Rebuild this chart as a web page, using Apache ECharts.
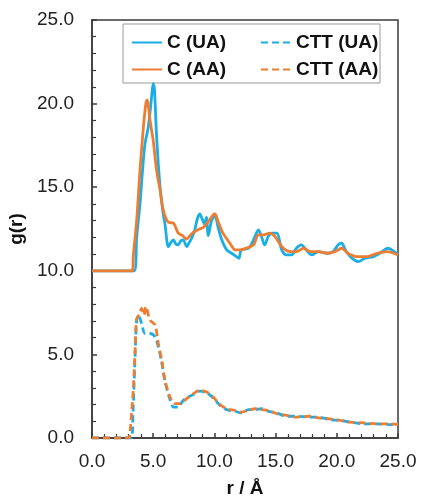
<!DOCTYPE html>
<html>
<head>
<meta charset="utf-8">
<script src="https://cdn.jsdelivr.net/npm/echarts@6/dist/echarts.min.js"></script>
<style>
  html, body { margin: 0; padding: 0; background: #fff; }
  #chart { width: 421px; height: 498px; }
</style>
</head>
<body>
<div id="chart"></div>
<script>
// g(r) curves as [r, g] pairs
var cUA = [[0, 10], [3.45, 10], [3.65, 12.0], [3.92, 14.0], [4.15, 16.2], [4.33, 17.6], [4.6, 18.6], [4.87, 20.4],
    [5.0, 21.2], [5.1, 20.9], [5.28, 18.0], [5.56, 15.0], [5.8, 13.5], [5.96, 12.8], [6.24, 11.45], [6.45, 11.7],
    [6.65, 11.85], [6.85, 11.6], [7.05, 11.55], [7.25, 11.8], [7.46, 11.85], [7.73, 11.45], [7.95, 11.7],
    [8.14, 11.95], [8.4, 12.45], [8.6, 13.1], [8.8, 13.4], [9.0, 13.1], [9.2, 12.8], [9.35, 13.2], [9.5, 12.1],
    [9.77, 13.0], [10.05, 13.3], [10.3, 12.6], [10.6, 11.85], [11.0, 11.25], [11.4, 11.05], [11.8, 10.85],
    [12.0, 10.75], [12.2, 11.25], [12.8, 11.35], [13.2, 11.85], [13.6, 12.45], [13.85, 12.05], [14.1, 11.55],
    [14.4, 12.05], [14.7, 12.25], [15.1, 12.25], [15.5, 11.25], [15.9, 10.95], [16.3, 10.95], [16.7, 11.35],
    [17.1, 11.55], [17.5, 11.25], [17.95, 10.95], [18.5, 11.15], [19.2, 11.05], [19.7, 11.15], [20.1, 11.55],
    [20.4, 11.65], [20.7, 11.25], [21.1, 10.85], [21.75, 10.55], [22.3, 10.75], [23.0, 10.85], [23.5, 11.05],
    [24.2, 11.35], [24.5, 11.25], [25, 11.0]];

var cAA = [[0, 10], [3.3, 10], [3.37, 10.85], [3.65, 13.0], [3.92, 16.0], [4.2, 18.6], [4.4, 20.0], [4.5, 20.2],
    [4.74, 19.0], [4.87, 18.4], [5.0, 17.8], [5.28, 16.0], [5.56, 14.85], [5.83, 13.6], [6.24, 12.9],
    [6.65, 12.85], [7.05, 12.25], [7.4, 12.1], [7.73, 11.9], [8.0, 12.1], [8.28, 12.3], [8.8, 12.5],
    [9.1, 12.6], [9.37, 12.8], [9.9, 13.35], [10.05, 13.4], [10.3, 12.95], [10.7, 12.25], [11.27, 11.65],
    [11.7, 11.25], [12.1, 11.25], [12.6, 11.35], [13.2, 11.55], [13.6, 12.15], [14.0, 12.15], [14.5, 12.25],
    [14.95, 12.05], [15.4, 11.55], [15.8, 11.25], [16.2, 11.15], [16.7, 11.15], [17.3, 11.35], [17.8, 11.15],
    [18.5, 11.15], [19.2, 11.05], [19.85, 11.15], [20.4, 11.35], [20.9, 11.05], [21.6, 10.85], [22.45, 10.85],
    [23.3, 11.05], [24.1, 11.15], [25, 10.95]];

var cttUA = [[0, 0], [3.2, 0], [3.35, 1.5], [3.5, 4.5], [3.65, 7.05], [3.8, 7.35], [4.05, 6.85], [4.33, 6.25],
    [4.74, 6.25], [5.15, 6.05], [5.42, 5.45], [5.7, 4.5], [5.96, 3.4], [6.37, 2.3], [6.65, 1.85], [7.05, 1.85],
    [7.4, 2.2], [7.73, 2.4], [8.28, 2.6], [8.8, 2.8], [9.37, 2.7], [9.9, 2.4], [10.46, 1.95], [11.0, 1.7],
    [11.7, 1.6], [12.2, 1.5], [12.8, 1.7], [13.3, 1.7], [13.85, 1.75], [14.4, 1.6], [15.1, 1.5], [15.9, 1.3],
    [16.7, 1.3], [17.8, 1.25], [18.5, 1.25], [19.4, 1.1], [20.3, 1.05], [21.1, 0.95], [22.2, 0.85],
    [23.3, 0.85], [24.3, 0.8], [25, 0.85]];

var cttAA = [[0, 0], [3.0, 0], [3.1, 0.3], [3.37, 2.9], [3.5, 4.9], [3.65, 7.1], [3.92, 7.45], [4.05, 7.75],
    [4.25, 7.35], [4.4, 7.85], [4.74, 7.05], [5.15, 6.75], [5.42, 5.65], [5.7, 4.65], [5.96, 3.45],
    [6.37, 2.45], [6.78, 2.05], [7.2, 2.05], [7.73, 2.35], [8.28, 2.65], [8.8, 2.85], [9.37, 2.75],
    [9.9, 2.45], [10.46, 2.0], [11.0, 1.75], [11.7, 1.65], [12.2, 1.55], [12.8, 1.65], [13.3, 1.75],
    [13.85, 1.7], [14.4, 1.65], [15.1, 1.45], [15.9, 1.35], [16.7, 1.25], [17.8, 1.3], [18.5, 1.2],
    [19.4, 1.15], [20.3, 1.05], [21.1, 0.95], [22.2, 0.9], [23.3, 0.85], [24.3, 0.85], [25, 0.8]];

var seriesNames = ['C (UA)', 'C (AA)', 'CTT (UA)', 'CTT (AA)'];
var blue = '#1aade6';
var orange = '#ed7d31';
var axisColor = '#3a3a3a';
var font = 'Arial, "Liberation Sans", sans-serif';

var chart = echarts.init(document.getElementById('chart'));

function axisCfg(name, isY) {
    return {
        type: 'value',
        min: 0,
        max: 25,
        interval: 5,
        name: name,
        nameLocation: 'middle',
        nameGap: isY ? 57 : 41,
        nameTextStyle: { fontFamily: font, fontSize: 19, fontWeight: 'bold', color: '#111' },
        axisLine: { show: true, lineStyle: { color: axisColor, width: 1.5 } },
        axisTick: { show: true, inside: true, length: 5, lineStyle: { color: axisColor, width: 1.5 } },
        minorTick: { show: true, splitNumber: 5, length: 4, lineStyle: { color: axisColor, width: 1.2 } },
        splitLine: { show: false },
        axisLabel: {
            fontFamily: font, fontSize: 19, color: '#222',
            margin: isY ? 18 : 14,
            formatter: function (v) { return v.toFixed(1); }
        }
    };
}

function line(name, data, color, dashed) {
    return {
        name: name,
        type: 'line',
        data: data,
        showSymbol: false,
        symbol: 'none',
        smooth: 0.3,
        lineStyle: { color: color, width: 2.8, type: dashed ? [7, 4] : 'solid' },
        itemStyle: { color: color }
    };
}

var legendText = { fontFamily: font, fontSize: 19, fontWeight: 'bold', color: '#111' };

function legendCol(left, names) {
    return {
        orient: 'vertical',
        left: left, top: 28,
        itemWidth: 30, itemHeight: 14, itemGap: 8,
        itemStyle: { opacity: 0 },
        textStyle: legendText,
        data: names
    };
}

var option = {
    animation: false,
    backgroundColor: '#fff',
    grid: {
        left: 92, right: 23, top: 20, bottom: 60,
        outerBoundsMode: 'none',
        show: true, borderColor: axisColor, borderWidth: 1.5
    },
    graphic: [{
        type: 'rect',
        z: 3,
        shape: { x: 123, y: 24, width: 257, height: 59 },
        style: { fill: '#fff', stroke: '#9a9a9a', lineWidth: 1 }
    }],
    legend: [
        legendCol(126, [seriesNames[0], seriesNames[1]]),
        legendCol(255, [seriesNames[2], seriesNames[3]])
    ],
    xAxis: axisCfg('r / Å', false),
    yAxis: axisCfg('g(r)', true),
    series: [
        line(seriesNames[0], cUA, blue, false),
        line(seriesNames[1], cAA, orange, false),
        line(seriesNames[2], cttUA, blue, true),
        line(seriesNames[3], cttAA, orange, true)
    ]
};

chart.setOption(option);
</script>
</body>
</html>
